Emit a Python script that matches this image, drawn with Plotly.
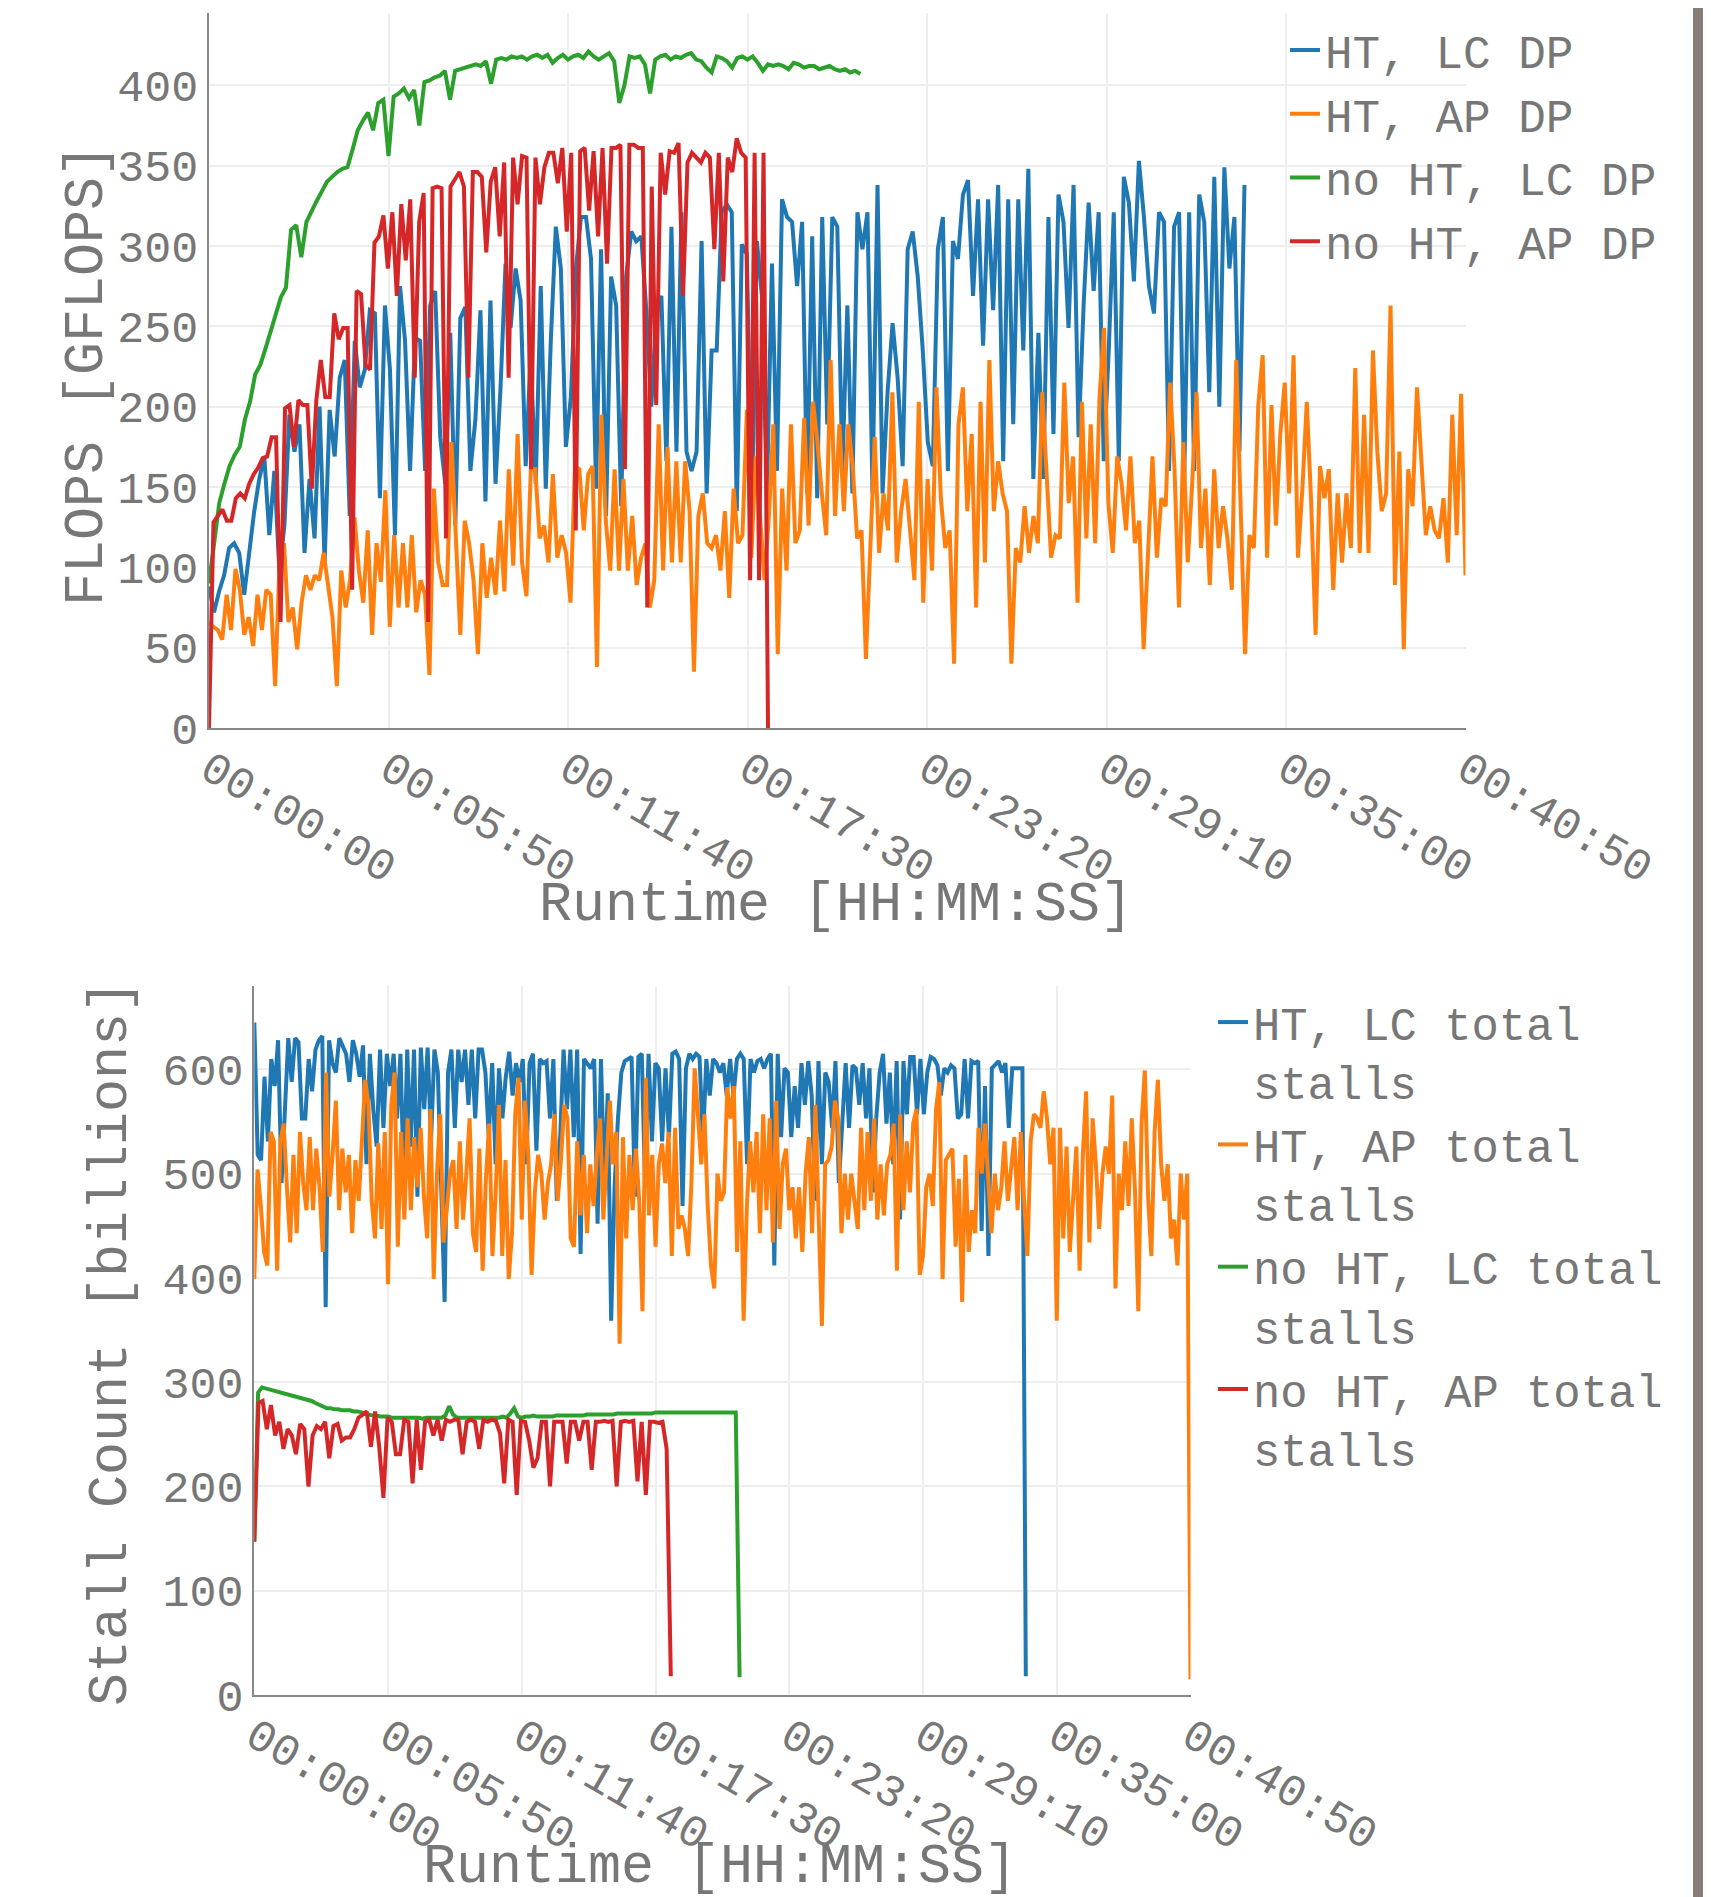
import plotly.graph_objects as go

# ---------------- data ----------------
TICK_SECONDS = [0, 350, 700, 1050, 1400, 1750, 2100, 2450]
TICK_LABELS = ["00:00:00", "00:05:50", "00:11:40", "00:17:30",
               "00:23:20", "00:29:10", "00:35:00", "00:40:50"]

FLOPS_NAMES = ["HT, LC DP", "HT, AP DP", "no HT, LC DP", "no HT, AP DP"]
STALL_NAMES = ["HT, LC total<br>stalls", "HT, AP total<br>stalls",
               "no HT, LC total<br>stalls", "no HT, AP total<br>stalls"]
COLORS = ["#1f77b4", "#ff7f0e", "#2ca02c", "#d62728"]

# run lengths (seconds)
END_HT_LC = 2019
END_HT_AP = 2450
END_NOHT_LC = 1270
END_NOHT_AP = 1090

# GFLOPS
ht_lc_flops = [
    88, 72, 85, 95, 112, 115, 109, 83, 109, 135, 155, 169, 120, 160, 98, 126, 195, 172, 189, 109,
    155, 118, 200, 103, 198, 169, 218, 229, 132, 241, 212, 223, 260, 258, 143, 263, 223, 120, 275, 241,
    160, 243, 241, 160, 263, 272, 181, 152, 246, 126, 255, 262, 160, 192, 260, 141, 266, 152, 212, 289,
    249, 286, 266, 163, 232, 152, 275, 149, 241, 312, 286, 175, 206, 286, 318, 318, 292, 149, 298, 132,
    281, 263, 138, 281, 309, 303, 306, 260, 200, 260, 269, 166, 312, 172, 321, 172, 160, 172, 303, 146,
    235, 235, 321, 326, 321, 135, 301, 295, 135, 303, 269, 146, 289, 160, 329, 318,
    315, 275, 315, 146, 306, 143, 318, 189, 318, 312, 160, 263, 146, 321, 298, 321, 146, 338, 146, 209,
    252, 218, 163, 298, 309, 281, 235, 178, 163, 298, 318, 160, 303, 292, 332, 341, 269, 329, 238, 329,
    260, 338, 166, 329, 189, 329, 235, 348, 155, 246, 155, 318, 183, 332, 315, 249, 338, 181, 263, 327,
    272, 321, 166, 235, 321, 166, 343, 327, 278, 353, 318, 275, 258, 321, 315, 160, 312, 321, 152, 321,
    160, 332, 315, 209, 343, 200, 349, 286, 318, 172, 338]

ht_ap_flops = [
    66, 63, 61, 55, 83, 61, 99, 86, 58, 69, 51, 83, 61, 86, 83, 26, 103, 115, 66, 75,
    49, 78, 95, 86, 95, 92, 109, 89, 69, 26, 98, 75, 92, 131, 98, 78, 123, 58, 115, 91,
    148, 63, 120, 75, 115, 75, 120, 72, 92, 83, 33, 149, 103, 89, 89, 178, 115, 58, 129, 115,
    92, 46, 115, 81, 106, 83, 129, 85, 161, 101, 183, 103, 82, 161, 161, 118, 126, 103, 158, 106,
    120, 109, 78, 163, 161, 123, 158, 163, 38, 195, 129, 98, 161, 98, 155, 98, 132, 89, 106, 115,
    75, 92, 189, 98, 175, 103, 166, 103, 166, 135, 35, 132, 146, 115, 112, 120, 98, 135, 81, 149,
    115, 120, 198, 106, 169, 132, 92, 132, 189, 46, 149, 98, 189, 115, 123, 193,
    126, 203, 178, 146, 120, 229, 132, 189, 135, 189, 163, 118, 123, 43, 109, 181, 109, 146, 123, 209,
    103, 135, 155, 126, 92, 203, 78, 155, 98, 212, 143, 112, 123, 40, 189, 212, 135, 183, 75, 203,
    103, 229, 135, 166, 146, 135, 40, 112, 103, 138, 109, 132, 115, 209, 161, 106, 120, 118, 215, 140,
    169, 78, 203, 118, 189, 115, 206, 249, 140, 109, 169, 152, 123, 169, 115, 129, 49, 109, 169, 106,
    143, 138, 215, 161, 75, 178, 103, 152, 209, 112, 149, 89, 161, 112, 138, 118, 86, 229, 132, 46,
    120, 112, 201, 232, 106, 201, 126, 183, 215, 146, 232, 106, 149, 203, 140, 58, 163, 143, 161, 86,
    146, 103, 146, 112, 224, 109, 195, 109, 235, 172, 135, 146, 263, 89, 172, 49, 161, 138, 212, 166,
    120, 138, 123, 118, 143, 103, 195, 120, 208, 95]

noht_lc_flops = [
    90, 115, 140, 152, 163, 170, 175, 192, 203, 220,
    226, 236, 247, 256, 268, 274, 310, 313, 293, 315,
    322, 328, 334, 340, 343, 346, 348, 349, 360, 372,
    378, 383, 372, 389, 391, 356, 393, 395, 398, 392,
    397, 375, 402, 403, 405, 406, 409, 391, 409, 410,
    411, 412, 413, 412, 415, 401, 416, 417, 416, 418,
    417, 418, 416, 418, 419, 417, 419, 414, 417, 419,
    416, 418, 419, 417, 421, 418, 416, 418, 420, 415,
    389, 400, 418, 417, 418, 413, 395, 416, 418, 419,
    416, 418, 417, 419, 420, 416, 415, 411, 408, 418,
    417, 415, 411, 417, 418, 416, 418, 414, 409, 413,
    412, 413, 412, 410, 414, 413, 411, 412, 412, 410,
    411, 412, 410, 409, 410, 408, 409, 407]

noht_ap_flops = [
    0, 128, 132, 136, 129, 129, 143, 146, 143, 152, 158, 162, 168, 169, 181, 181, 66, 199, 201, 175,
    204, 201, 201, 149, 204, 229, 206, 206, 258, 242, 249, 249, 86, 272, 270, 226, 223, 302, 306, 319,
    286, 321, 269, 326, 291, 329, 218, 315, 333, 66, 336, 337, 336, 118, 337, 342, 346, 337, 218, 346,
    346, 343, 296, 340, 349, 306, 352, 218, 355, 326, 356, 355, 161, 355, 326, 349, 358, 358, 339, 361,
    309, 358, 123, 359, 361, 322, 359, 306, 361, 289, 361, 361, 363, 161, 363, 363, 361, 361, 75, 337,
    201, 358, 332, 359, 358, 364, 269, 352, 358, 355, 352, 358, 355, 298, 358, 278, 355, 346, 367, 358,
    355, 92, 358, 92, 358, 0]

# stall counts (billions)
ht_lc_stalls = [
    645, 518, 513, 593, 531, 610, 584, 628, 491, 553, 630, 588, 630, 626, 553, 553, 610, 579, 619, 628,
    632, 372, 628, 606, 597, 630, 623, 615, 588, 628, 615, 593, 623, 509, 615, 562, 526, 619, 544, 615,
    584, 615, 553, 615, 491, 619, 526, 619, 478, 621, 562, 621, 531, 619, 597, 491, 377, 597, 619, 544,
    619, 588, 619, 566, 619, 553, 619, 619, 597, 535, 606, 509, 601, 553, 593, 617, 575, 606, 588, 610,
    509, 606, 615, 522, 610, 606, 608, 553, 610, 474, 535, 619, 562, 619, 535, 619, 423, 610, 606, 601,
    610, 452, 610, 487, 577, 359, 487, 553, 597, 608, 610, 612, 478, 612, 615, 487, 615, 531, 606, 601,
    531, 601, 535, 615, 617, 610, 469, 601, 615, 610, 615, 612, 531, 610, 575, 610, 606,
    597, 606, 575, 610, 575, 610, 615, 610, 509, 610, 597, 608, 610, 601, 610, 615, 412, 615, 535, 601,
    597, 535, 584, 544, 606, 566, 608, 575, 474, 608, 509, 597, 588, 544, 608, 491, 557, 606, 544, 604,
    601, 566, 606, 553, 601, 482, 553, 597, 615, 548, 597, 509, 608, 456, 608, 557, 612, 612, 557, 610,
    557, 597, 612, 610, 604, 575, 601, 597, 604, 601, 553, 557, 610, 553, 608, 606, 608, 445, 584, 421,
    601, 604, 608, 597, 606, 544, 601, 601, 601, 601, 18]

ht_ap_stalls = [
    399, 504, 469, 425, 412, 540, 531, 407, 531, 548, 487, 434, 518, 443, 540, 491, 465, 535, 465, 524,
    487, 425, 597, 478, 518, 570, 465, 524, 482, 518, 443, 513, 474, 529, 590, 566, 474, 438, 529, 447,
    540, 394, 566, 597, 430, 540, 456, 553, 465, 535, 487, 544, 478, 438, 562, 399, 500, 557, 434, 465,
    500, 513, 447, 531, 456, 500, 553, 443, 425, 524, 407, 495, 548, 421, 482, 566, 421, 513, 399, 443,
    557, 592, 456, 570, 518, 403, 482, 518, 500, 456, 491, 509, 557, 474, 513, 566, 553, 438, 430, 531,
    460, 518, 443, 509, 469, 518, 553, 456, 518, 570, 509, 540, 337, 535, 438, 518, 465, 524, 474, 368,
    592, 460, 518, 430, 509, 529, 491, 540, 421, 544, 447, 460, 447, 421, 491, 601, 557, 509, 557, 469,
    412, 390, 500, 474, 482, 583, 553,
    584, 425, 531, 359, 469, 531, 482, 540, 443, 557, 465, 553, 434, 570, 447, 509, 524, 465, 487, 438,
    487, 425, 500, 535, 443, 566, 474, 354, 509, 513, 526, 570, 553, 443, 500, 456, 500, 474, 447, 544,
    465, 540, 474, 553, 456, 509, 460, 509, 518, 548, 407, 557, 465, 531, 482, 548, 562, 403, 421, 487,
    500, 469, 562, 588, 399, 513, 518, 524, 430, 495, 377, 518, 425, 465, 443, 544, 500, 548, 495, 443,
    500, 465, 487, 531, 474, 509, 535, 465, 540, 474, 421, 531, 557, 553, 544, 579, 553, 509, 544, 359,
    544, 438, 526, 425, 474, 526, 407, 518, 579, 434, 553, 509, 447, 500, 526, 500, 575, 390, 500, 465,
    531, 469, 553, 482, 368, 548, 599, 478, 421, 540, 590, 509, 474, 509, 438, 456, 412, 500, 456, 500,
    15]

noht_lc_stalls = [
    147, 290, 295, 294, 293, 292, 291, 290, 289, 288,
    287, 286, 285, 284, 283, 282, 280, 278, 276, 275,
    275, 274, 274, 273, 273, 273, 272, 272, 271, 270,
    269, 268, 268, 267, 267, 267, 266, 266, 266, 266,
    266, 266, 266, 266, 265, 266, 266, 266, 266, 266,
    268, 277, 269, 266, 266, 266, 266, 266, 266, 266,
    266, 266, 266, 266, 266, 267, 266, 270, 275, 267,
    266, 267, 267, 268, 267, 267, 267, 267, 267, 268,
    268, 268, 268, 268, 268, 268, 268, 269, 269, 269,
    269, 269, 269, 269, 269, 270, 270, 270, 270, 270,
    270, 270, 270, 270, 270, 271, 271, 271, 271, 271,
    271, 271, 271, 271, 271, 271, 271, 271, 271, 271,
    271, 271, 271, 271, 271, 271, 271, 17]

noht_ap_stalls = [
    147, 280, 282, 255, 278, 249, 262, 236, 255, 249, 231, 260, 255, 200, 249, 258, 255, 262, 227, 258,
    260, 244, 247, 247, 255, 266, 269, 272, 238, 272, 238, 189, 266, 262, 231, 231, 264, 262, 203, 264,
    216, 262, 264, 249, 264, 244, 264, 262, 264, 264, 231, 262, 264, 262, 236, 264, 262, 264, 263, 251,
    203, 264, 262, 192, 263, 262, 244, 218, 227, 262, 262, 200, 262, 262, 262, 222, 262, 262, 244, 262,
    262, 216, 262, 262, 263, 262, 263, 200, 262, 263, 262, 263, 205, 262, 192, 262, 262, 261, 262, 236,
    18]

# ---------------- figure ----------------
FONT = "Liberation Mono"
TXT = "#777777"
W, H = 1711, 1897

fig = go.Figure()

flops_series = [(ht_lc_flops, END_HT_LC), (ht_ap_flops, END_HT_AP),
                (noht_lc_flops, END_NOHT_LC), (noht_ap_flops, END_NOHT_AP)]
stall_series = [(ht_lc_stalls, END_HT_LC), (ht_ap_stalls, END_HT_AP),
                (noht_lc_stalls, END_NOHT_LC), (noht_ap_stalls, END_NOHT_AP)]

for name, color, (vals, end) in zip(FLOPS_NAMES, COLORS, flops_series):
    fig.add_trace(go.Scatter(
        y=vals, x0=0, dx=end / (len(vals) - 1), mode="lines", name=name,
        legendgroup=name, line=dict(color=color, width=4),
        xaxis="x", yaxis="y", legend="legend"))

for name, color, (vals, end) in zip(STALL_NAMES, COLORS, stall_series):
    fig.add_trace(go.Scatter(
        y=vals, x0=0, dx=end / (len(vals) - 1), mode="lines", name=name,
        legendgroup="s" + name, line=dict(color=color, width=4),
        xaxis="x2", yaxis="y2", legend="legend2"))

axis_common = dict(
    showgrid=True, gridcolor="#eeeeee", gridwidth=1.5,
    showline=True, linecolor="#888888", linewidth=1.5,
    zeroline=False, ticks="", ticklen=0, automargin=False,
    tickfont=dict(family=FONT, size=45, color=TXT),
)
xcommon = dict(axis_common, range=[0, 2450], tickmode="array",
               tickvals=TICK_SECONDS, ticktext=TICK_LABELS, tickangle=30,
               ticklabelstandoff=-5)

# positions below are page pixels (the page body sits 8 px in from the window edge)
def px_x(p):
    return p / W

def px_y(p):
    return 1 - p / H

def title(text, x, y, angle=0):
    return dict(text=text, textangle=angle, x=px_x(x), y=px_y(y),
                xref="paper", yref="paper", xanchor="center", yanchor="middle",
                showarrow=False, font=dict(family=FONT, size=55, color=TXT))

fig.update_layout(
    width=W, height=H, autosize=False,
    margin=dict(l=0, r=0, t=0, b=0, pad=0, autoexpand=False),
    paper_bgcolor="white", plot_bgcolor="white",
    font=dict(family=FONT, color=TXT),
    showlegend=True,
    xaxis=dict(xcommon, domain=[px_x(201), px_x(1457.5)], anchor="y"),
    yaxis=dict(axis_common, domain=[px_y(720), px_y(5)], range=[0, 445],
               dtick=50, tick0=0, anchor="x", ticklabelstandoff=0),
    xaxis2=dict(xcommon, domain=[px_x(246.3), px_x(1182.5)], anchor="y2"),
    yaxis2=dict(axis_common, domain=[px_y(1687), px_y(978)], range=[0, 680],
                dtick=100, tick0=0, anchor="x2", ticklabelstandoff=0),
    legend=dict(x=px_x(1277), y=px_y(5.5), xanchor="left", yanchor="top",
                font=dict(family=FONT, size=46, color=TXT),
                bgcolor="rgba(0,0,0,0)", tracegroupgap=1, traceorder="grouped"),
    legend2=dict(x=px_x(1205), y=px_y(978), xanchor="left", yanchor="top",
                 font=dict(family=FONT, size=45.5, color=TXT), valign="top",
                 bgcolor="rgba(0,0,0,0)", tracegroupgap=1, traceorder="grouped"),
    annotations=[
        title("FLOPS [GFLOPS]", 79, 367, -90),
        title("Runtime [HH:MM:SS]", 828, 898),
        title("Stall Count [billions]", 103, 1335, -90),
        title("Runtime [HH:MM:SS]", 712, 1859.5),
    ],
    shapes=[
        dict(type="rect", xref="paper", yref="paper", x0=px_x(1685), x1=1.0,
             y0=0, y1=1, fillcolor="#867c78", line=dict(width=0), layer="above"),
    ],
)

fig.write_html("out.html")
